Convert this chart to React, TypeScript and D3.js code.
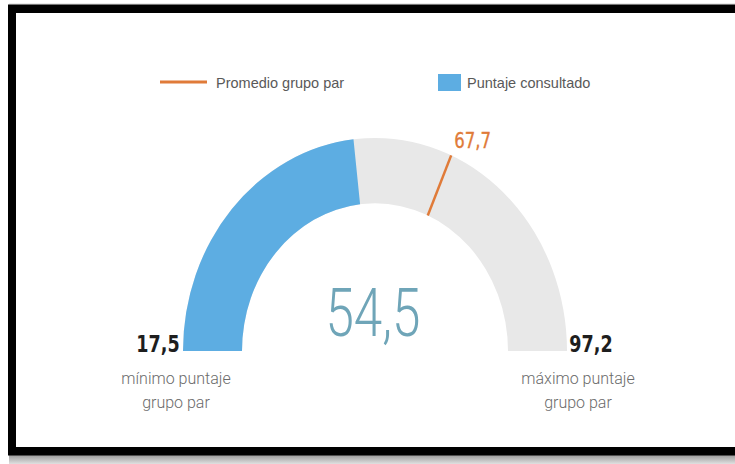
import { useEffect, useRef } from 'react'
import * as d3 from 'd3'

// gauge data
const rangeValues = [17.5, 97.2]
const scoreValues = [54.5]
const peerAverages = [67.7]
const legendLabels = ['Promedio grupo par', 'Puntaje consultado']
const minLabelLines = ['mínimo puntaje', 'grupo par']
const maxLabelLines = ['máximo puntaje', 'grupo par']

const BLUE = '#5dade2'
const GREY = '#e8e8e8'
const ORANGE = '#e07b39'

export default function App() {
  const svgRef = useRef<SVGSVGElement | null>(null)
  const width = 735
  const height = 464

  useEffect(() => {
    if (!svgRef.current) return
    const svg = d3.select(svgRef.current)
    svg.selectAll('*').remove()

    const fmt = d3.formatLocale({ decimal: ',', thousands: '.', grouping: [3], currency: ['', ''] }).format('.1f')

    // frame + shadow
    svg.append('rect').attr('x', 0).attr('y', 0).attr('width', width).attr('height', height).attr('fill', '#fff')
    svg.append('rect').attr('x', 9).attr('y', 3.5).attr('width', width).attr('height', 1).attr('fill', '#d6d6d6')
    const grad = svg.append('defs').append('linearGradient').attr('id', 'shadow')
      .attr('x1', 0).attr('x2', 0).attr('y1', 0).attr('y2', 1)
    grad.append('stop').attr('offset', 0).attr('stop-color', '#9a9a9a')
    grad.append('stop').attr('offset', 1).attr('stop-color', '#e0e0e0')
    svg.append('rect').attr('x', 9).attr('y', 455).attr('width', width).attr('height', 9).attr('fill', 'url(#shadow)')
    svg.append('rect').attr('x', 8).attr('y', 4.5).attr('width', width).attr('height', 451).attr('fill', '#000')
    svg.append('rect').attr('x', 16).attr('y', 13).attr('width', width).attr('height', 434).attr('fill', '#fff')

    const cx = 375
    const cy = 351
    const sy = 1.11
    const outerR = 192
    const innerR = 133

    const angle = d3.scaleLinear().domain(rangeValues).range([-Math.PI / 2, Math.PI / 2])
    const arc = d3.arc<{ a0: number; a1: number }>()
      .innerRadius(innerR)
      .outerRadius(outerR)
      .startAngle(d => d.a0)
      .endAngle(d => d.a1)

    const g = svg.append('g').attr('transform', `translate(${cx},${cy}) scale(1,${sy})`)

    g.append('path').attr('d', arc({ a0: -Math.PI / 2, a1: Math.PI / 2 })).attr('fill', GREY)
    g.append('path').attr('d', arc({ a0: -Math.PI / 2, a1: angle(scoreValues[0]) })).attr('fill', BLUE)

    // peer average marker
    const ma = angle(peerAverages[0])
    const mx = (r: number) => r * Math.sin(ma)
    const my = (r: number) => -r * Math.cos(ma)
    svg.append('line')
      .attr('x1', cx + mx(innerR)).attr('y1', cy + my(innerR) * sy)
      .attr('x2', cx + mx(outerR)).attr('y2', cy + my(outerR) * sy)
      .attr('stroke', ORANGE).attr('stroke-width', 2.5)

    const lx = cx + mx(outerR) + 3
    const ly = cy + my(outerR) * sy - 7
    svg.append('text')
      .attr('x', lx).attr('y', ly)
      .attr('fill', ORANGE).attr('font-family', 'DejaVu Sans Condensed, DejaVu Sans')
      .attr('font-size', 20).attr('stroke', ORANGE).attr('stroke-width', 0.3)
      .attr('transform-origin', `${lx}px ${ly}px`)
      .attr('transform', 'scale(0.92,1.05)')
      .text(fmt(peerAverages[0]))

    // center value
    svg.append('text')
      .attr('x', cx - 2).attr('y', 336)
      .attr('text-anchor', 'middle')
      .attr('fill', '#6fa5b8')
      .attr('font-family', 'Roboto')
      .attr('font-weight', 300)
      .attr('font-size', 61)
      .attr('transform-origin', `${cx - 2}px 336px`)
      .attr('transform', 'scale(0.84,1.1)')
      .text(fmt(scoreValues[0]))

    // min / max
    const ends = [
      { v: rangeValues[0], x: 158, dx: 18, lines: minLabelLines },
      { v: rangeValues[1], x: 591, dx: -13, lines: maxLabelLines },
    ]
    ends.forEach(e => {
      svg.append('text')
        .attr('x', e.x).attr('y', 352)
        .attr('text-anchor', 'middle')
        .attr('fill', '#1e1e1e')
        .attr('font-family', 'DejaVu Sans Condensed, DejaVu Sans')
        .attr('font-weight', 'bold')
        .attr('font-size', 21)
        .attr('transform-origin', `${e.x}px 352px`)
        .attr('transform', 'scale(0.93,1.08)')
        .text(fmt(e.v))
      e.lines.forEach((l, i) => {
        svg.append('text')
          .attr('x', e.x + e.dx).attr('y', 384 + i * 24)
          .attr('text-anchor', 'middle')
          .attr('fill', '#6b6b6b')
          .attr('font-family', 'Roboto')
          .attr('font-weight', 300)
          .attr('font-size', 16)
          .text(l)
      })
    })

    // legend
    const lg = svg.append('g')
    lg.append('line').attr('x1', 160).attr('x2', 207).attr('y1', 82).attr('y2', 82)
      .attr('stroke', ORANGE).attr('stroke-width', 3)
    lg.append('text').attr('x', 216).attr('y', 88).attr('fill', '#595959')
      .attr('font-family', 'Liberation Sans, Arial').attr('font-size', 14.5).text(legendLabels[0])
    lg.append('rect').attr('x', 438).attr('y', 74).attr('width', 23).attr('height', 17).attr('fill', BLUE)
    lg.append('text').attr('x', 467).attr('y', 88).attr('fill', '#595959')
      .attr('font-family', 'Liberation Sans, Arial').attr('font-size', 14.5).text(legendLabels[1])
  }, [])

  return (
    <svg ref={svgRef} width={width} height={height}
      style={{ position: 'absolute', left: 0, top: 0, display: 'block' }} />
  )
}
